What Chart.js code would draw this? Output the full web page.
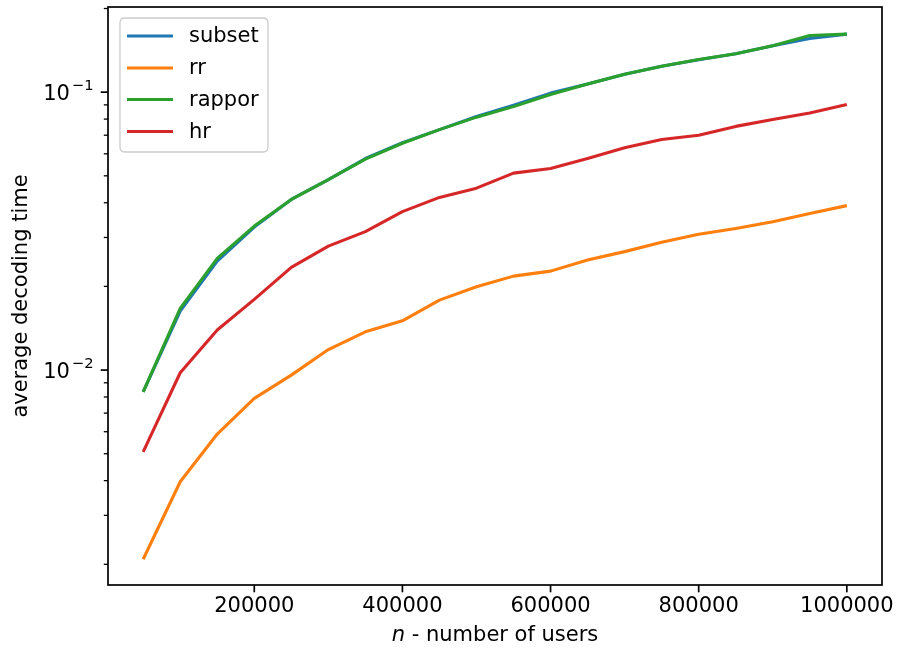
<!DOCTYPE html>
<html><head><meta charset="utf-8">
<script src="https://cdn.jsdelivr.net/npm/chart.js@4.4.0/dist/chart.umd.min.js"></script>
<style>html,body{margin:0;padding:0;background:#fff;}#wrap{width:898px;height:651px;}</style>
</head><body><div id="wrap"><canvas id="c" width="898" height="651"></canvas></div>
<script>
// ---- data ----
const users = [50000,100000,150000,200000,250000,300000,350000,400000,450000,500000,
               550000,600000,650000,700000,750000,800000,850000,900000,950000,1000000];
const subset = [0.00835,0.0163,0.02466,0.0327,0.0411,0.04845,0.0577,0.0658,0.0733,0.0817,
                0.0898,0.0992,0.1069,0.1161,0.1240,0.1309,0.1375,0.1470,0.1561,0.1617];
const rr     = [0.002085,0.003964,0.005886,0.00791,0.00959,0.01185,0.01373,0.01504,0.01785,0.01993,
                0.02178,0.0227,0.02487,0.02668,0.02886,0.0308,0.03233,0.03415,0.03661,0.03906];
const rappor = [0.00835,0.01667,0.02522,0.03296,0.04111,0.04845,0.0574,0.0655,0.0733,0.0813,
                0.0887,0.0981,0.1069,0.1161,0.1240,0.1311,0.1375,0.1470,0.1600,0.1617];
const hr     = [0.00508,0.00978,0.01393,0.01796,0.02341,0.02793,0.03149,0.03716,0.04181,0.04515,
                0.05112,0.05315,0.05774,0.06314,0.0676,0.0700,0.0753,0.0797,0.0842,0.0903];
const seriesNames = ['subset','rr','rappor','hr'];
const xTickValues = [200000,400000,600000,800000,1000000];
const yMajorTicks = [0.01,0.1];
const yMinorTicks = [0.002,0.003,0.004,0.005,0.006,0.007,0.008,0.009,
                     0.02,0.03,0.04,0.05,0.06,0.07,0.08,0.09,0.2];
const yTickLabels = {'0.01':['10','\u22122'],'0.1':['10','\u22121']};
const xTitle = ['n',' - number of users'];
const yTitle = 'average decoding time';

const colors = ['#1f77b4','#ff7f0e','#2ca02c','#d62728'];
const FONT = 'DejaVu Sans';
const FS = 21;
const allSeries = [subset, rr, rappor, hr];

const datasets = allSeries.map((s,k)=>({
  label: seriesNames[k],
  data: users.map((u,i)=>({x:u,y:s[i]})),
  borderColor: colors[k], backgroundColor: colors[k],
  borderWidth: 3.1, pointRadius: 0, tension: 0, fill: false,
  borderCapStyle:'butt', borderJoinStyle:'round',
  order: allSeries.length - 1 - k
}));

const decor = {
  id:'decor',
  afterDraw(chart){
    const ctx = chart.ctx, a = chart.chartArea;
    const xs = chart.scales.x, ys = chart.scales.y;
    ctx.save();
    // ticks
    ctx.strokeStyle = '#000';
    ys.ticks.forEach(t=>{
      const p = ys.getPixelForValue(t.value);
      const L = t.major ? 7.3 : 4.2;
      ctx.lineWidth = t.major ? 1.7 : 1.3;
      ctx.beginPath(); ctx.moveTo(a.left, p); ctx.lineTo(a.left - L, p); ctx.stroke();
    });
    ctx.lineWidth = 1.7;
    xs.ticks.forEach(t=>{
      const p = xs.getPixelForValue(t.value);
      ctx.beginPath(); ctx.moveTo(p, a.bottom); ctx.lineTo(p, a.bottom + 7.3); ctx.stroke();
    });
    // y tick labels (mathtext style 10^-n)
    ctx.fillStyle='#000'; ctx.textAlign='left'; ctx.textBaseline='alphabetic';
    ys.ticks.forEach(t=>{
      const lab = yTickLabels[String(t.value)];
      if(!lab) return;
      const p = ys.getPixelForValue(t.value);
      ctx.font = FS+'px "'+FONT+'"'; const wb = ctx.measureText(lab[0]).width;
      ctx.font = (FS*0.7)+'px "'+FONT+'"'; const ws = ctx.measureText(lab[1]).width;
      const x0 = a.left - 14.5 - wb - ws - 2;
      ctx.font = FS+'px "'+FONT+'"'; ctx.fillText(lab[0], x0, p + 8);
      ctx.font = (FS*0.7)+'px "'+FONT+'"'; ctx.fillText(lab[1], x0 + wb + 2, p - 2.5);
    });
    // frame
    ctx.strokeStyle='#000'; ctx.lineWidth = 1.7;
    ctx.strokeRect(a.left, a.top, a.right - a.left, a.bottom - a.top);
    // legend
    const bx=120, by=18, bw=148, bh=134, r=5;
    ctx.beginPath();
    ctx.moveTo(bx+r,by); ctx.lineTo(bx+bw-r,by); ctx.quadraticCurveTo(bx+bw,by,bx+bw,by+r);
    ctx.lineTo(bx+bw,by+bh-r); ctx.quadraticCurveTo(bx+bw,by+bh,bx+bw-r,by+bh);
    ctx.lineTo(bx+r,by+bh); ctx.quadraticCurveTo(bx,by+bh,bx,by+bh-r);
    ctx.lineTo(bx,by+r); ctx.quadraticCurveTo(bx,by,bx+r,by); ctx.closePath();
    ctx.fillStyle='rgba(255,255,255,0.8)'; ctx.fill();
    ctx.strokeStyle='#cccccc'; ctx.lineWidth=1.3; ctx.stroke();
    const rowY = [36,68,99.5,131.5];
    ctx.font = FS+'px "'+FONT+'"'; ctx.textBaseline='middle'; ctx.textAlign='left';
    chart.data.datasets.forEach((d,k)=>{
      ctx.strokeStyle=d.borderColor; ctx.lineWidth=3.1;
      ctx.beginPath(); ctx.moveTo(127,rowY[k]); ctx.lineTo(173,rowY[k]); ctx.stroke();
      ctx.fillStyle='#000'; ctx.fillText(d.label,189,rowY[k]+1);
    });
    // x title with italic n
    ctx.fillStyle='#000'; ctx.textBaseline='middle';
    const fI = 'italic '+FS+'px "'+FONT+'"', fN = FS+'px "'+FONT+'"';
    ctx.font=fI; const w1=ctx.measureText(xTitle[0]).width;
    ctx.font=fN; const w2=ctx.measureText(xTitle[1]).width;
    let x0 = (a.left+a.right)/2 - (w1+w2)/2;
    ctx.font=fI; ctx.fillText(xTitle[0], x0, 636);
    ctx.font=fN; ctx.fillText(xTitle[1], x0+w1, 636);
    // y title
    ctx.translate(22,(a.top+a.bottom)/2); ctx.rotate(-Math.PI/2);
    ctx.textAlign='center'; ctx.fillText(yTitle,0,0);
    ctx.restore();
  }
};

new Chart(document.getElementById('c'),{
  type:'line',
  data:{datasets},
  options:{
    responsive:false, animation:false, devicePixelRatio:1,
    layout:{padding:{top:7,right:16,left:0,bottom:0}},
    plugins:{legend:{display:false},tooltip:{enabled:false},title:{display:false}},
    scales:{
      x:{type:'linear',min:2500,max:1047500,
        afterBuildTicks:s=>{s.ticks=xTickValues.map(v=>({value:v}));},
        afterFit:s=>{s.height=66;s.paddingLeft=0;s.paddingRight=0;s.paddingTop=0;s.paddingBottom=0;},
        ticks:{callback:v=>String(v),color:'#000',font:{family:FONT,size:FS},padding:9,
               autoSkip:false,maxRotation:0,minRotation:0},
        grid:{display:false,drawTicks:false},border:{display:false}},
      y:{type:'logarithmic',min:0.001685,max:0.2025,
        afterBuildTicks:s=>{
          const t=[];
          yMinorTicks.concat(yMajorTicks).sort((p,q)=>p-q).forEach(v=>t.push({value:v,major:yMajorTicks.includes(v)}));
          s.ticks=t;},
        afterFit:s=>{s.width=108;s.paddingLeft=0;s.paddingRight=0;s.paddingTop=0;s.paddingBottom=0;},
        ticks:{callback:()=>'',color:'#000',font:{family:FONT,size:FS},padding:13,autoSkip:false},
        grid:{display:false,drawTicks:false},border:{display:false}}
    }
  },
  plugins:[decor]
});
</script></body></html>
